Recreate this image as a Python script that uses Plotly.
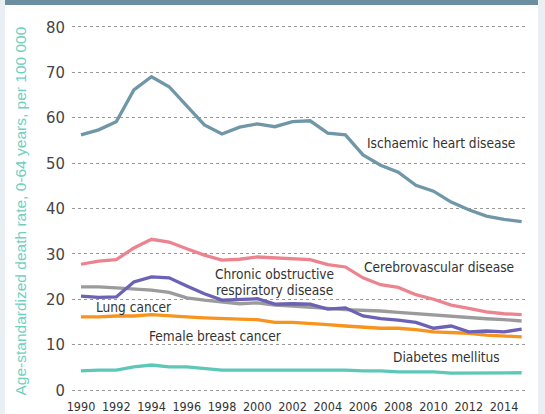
import plotly.graph_objects as go

years = list(range(1990, 2016))

ischaemic = [56.2, 57.3, 59.1, 66.1, 69.0, 66.8, 62.6, 58.4, 56.4, 57.9, 58.6, 58.0, 59.1,
             59.3, 56.6, 56.2, 51.8, 49.5, 48.0, 45.1, 43.8, 41.4, 39.7, 38.3, 37.6, 37.1]
cerebro = [27.7, 28.4, 28.7, 31.3, 33.2, 32.6, 31.1, 29.7, 28.6, 28.8, 29.3, 29.1, 28.8,
           28.7, 27.6, 27.1, 24.7, 23.2, 22.6, 21.0, 20.0, 18.7, 18.0, 17.2, 16.8, 16.6]
copd = [20.7, 20.4, 20.5, 23.8, 24.9, 24.7, 22.9, 21.2, 19.8, 19.9, 20.1, 18.9, 19.0,
        18.9, 17.8, 18.1, 16.3, 15.7, 15.4, 14.9, 13.6, 14.1, 12.8, 13.0, 12.8, 13.4]
lung = [22.7, 22.7, 22.5, 22.3, 22.0, 21.5, 20.3, 19.8, 19.4, 19.0, 19.2, 18.7, 18.5,
        18.3, 18.0, 17.7, 17.6, 17.4, 17.1, 16.8, 16.6, 16.3, 15.9, 15.7, 15.5, 15.2]
breast = [16.1, 16.1, 16.3, 16.3, 16.6, 16.3, 16.1, 15.9, 15.7, 15.6, 15.5, 14.9, 14.9,
          14.7, 14.4, 14.1, 13.8, 13.6, 13.6, 13.3, 12.8, 12.6, 12.5, 12.1, 11.9, 11.7]
diabetes = [4.2, 4.4, 4.4, 5.1, 5.5, 5.1, 5.1, 4.8, 4.4, 4.4, 4.4, 4.4, 4.4,
            4.4, 4.4, 4.4, 4.2, 4.2, 4.0, 4.0, 4.0, 3.7, 3.7, 3.7, 3.8, 3.8]

series = [
    ("Diabetes mellitus", diabetes, "#5ec8b8"),
    ("Female breast cancer", breast, "#f7941d"),
    ("Lung cancer", lung, "#9b9b9b"),
    ("Chronic obstructive respiratory disease", copd, "#6b62b5"),
    ("Cerebrovascular disease", cerebro, "#ec8490"),
    ("Ischaemic heart disease", ischaemic, "#6f97a8"),
]

y_ticks = [0, 10, 20, 30, 40, 50, 60, 70, 80]
x_ticks = list(range(1990, 2015, 2))

# label positions (text placement)
labels = [
    ("Ischaemic heart disease", 2006.1, 54.5),
    ("Cerebrovascular disease", 2005.95, 27.1),
    ("Chronic obstructive", 1997.5, 25.6),
    ("respiratory disease", 1997.55, 22.1),
    ("Lung cancer", 1990.75, 18.3),
    ("Female breast cancer", 1993.75, 11.9),
    ("Diabetes mellitus", 2007.6, 7.2),
]

COND = "DejaVu Sans Condensed, Liberation Sans Narrow, sans-serif"

fig = go.Figure()
for name, vals, col in series:
    fig.add_trace(go.Scatter(x=years, y=vals, mode="lines", name=name,
                             line=dict(color=col, width=3.3), hoverinfo="x+y+name"))

W, H = 545, 414
L, R, T, B = 72, 17, 20, 21
pw, ph = W - L - R, H - T - B

def px2paper_x(px):
    return (px - L) / pw

def px2paper_y(py):
    return (H - B - py) / ph

BORDER = "#e9eff2"
shapes = [
    # left light border
    dict(type="rect", xref="paper", yref="paper", layer="above",
         x0=px2paper_x(0), x1=px2paper_x(5), y0=px2paper_y(H), y1=px2paper_y(0),
         fillcolor=BORDER, line=dict(width=0)),
    # right light border
    dict(type="rect", xref="paper", yref="paper", layer="above",
         x0=px2paper_x(538), x1=px2paper_x(W), y0=px2paper_y(H), y1=px2paper_y(0),
         fillcolor=BORDER, line=dict(width=0)),
    # top dark bar
    dict(type="rect", xref="paper", yref="paper", layer="above",
         x0=px2paper_x(5), x1=px2paper_x(538), y0=px2paper_y(5), y1=px2paper_y(0),
         fillcolor="#6b8fa0", line=dict(width=0)),
]

annotations = [
    dict(text=t, x=x, y=y, xref="x", yref="y", xanchor="left", yanchor="middle",
         showarrow=False, font=dict(family=COND, size=13.6, color="#333333"))
    for t, x, y in labels
]
annotations.append(dict(
    text="Age-standardized death rate, 0-64 years, per 100 000",
    xref="paper", yref="paper", x=px2paper_x(20), y=px2paper_y(211.5),
    xanchor="center", yanchor="middle", textangle=-90, showarrow=False,
    font=dict(family="Liberation Sans, Arial, sans-serif", size=15.5, color="#6fd0c0")))

fig.update_layout(
    width=W, height=H,
    margin=dict(l=L, r=R, t=T, b=B, pad=0),
    paper_bgcolor="white",
    plot_bgcolor="white",
    showlegend=False,
    shapes=shapes,
    annotations=annotations,
    xaxis=dict(range=[1989.49, 2015.36], tickvals=x_ticks, ticktext=[str(v) for v in x_ticks],
               showgrid=False, zeroline=False, showline=False, ticks="", automargin=False,
               tickfont=dict(family=COND, size=12.5, color="#333333"), ticklabelstandoff=4),
    yaxis=dict(range=[-0.66, 81.5], tickvals=y_ticks, ticktext=[str(v) for v in y_ticks],
               showgrid=True, gridcolor="#999999", gridwidth=1, griddash="dot",
               zeroline=False, showline=False, ticks="", automargin=False,
               tickfont=dict(family=COND, size=16.5, color="#444444"), ticklabelstandoff=6),
)

fig.write_html("out.html", config={"displayModeBar": False},
               post_script="document.body.style.margin='0';document.body.style.overflow='hidden';")
